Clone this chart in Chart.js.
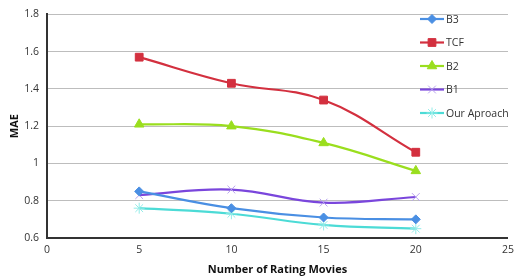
<!DOCTYPE html>
<html lang="en">
<head>
    <meta charset="UTF-8">
    <title>MAE vs Number of Rating Movies</title>
    <script src="https://cdn.jsdelivr.net/npm/chart.js"></script>
    <style>
        body {
            margin: 0;
            padding: 0;
            background: #fff;
        }

        #wrap {
            width: 520px;
            height: 280px;
        }
    </style>
</head>
<body>
    <div id="wrap"><canvas id="chart1"></canvas></div>

    <script>
        // Dados
        const ratingMovies = [5, 10, 15, 20];
        const b3 = [0.85, 0.76, 0.71, 0.70];
        const tcf = [1.57, 1.43, 1.34, 1.06];
        const b2 = [1.21, 1.20, 1.11, 0.96];
        const b1 = [0.83, 0.86, 0.79, 0.82];
        const ourAproach = [0.76, 0.73, 0.67, 0.65];
        const seriesNames = ["B3", "TCF", "B2", "B1", "Our Aproach"];

        const FONT = "'Open Sans', 'Liberation Sans', sans-serif";

        function pts(values) {
            return values.map((v, i) => ({ x: ratingMovies[i], y: v }));
        }

        function serie(label, values, color, pointColor, style, radius) {
            return {
                label: label,
                data: pts(values),
                borderColor: color,
                backgroundColor: pointColor,
                pointBorderColor: pointColor,
                pointBackgroundColor: pointColor,
                pointStyle: style,
                pointRadius: radius,
                pointBorderWidth: 1,
                borderWidth: 2.2,
                tension: 0.4,
                fill: false,
            };
        }

        // Legenda desenhada dentro da área do gráfico
        const insideLegend = {
            id: "insideLegend",
            afterDraw(chart) {
                const ctx = chart.ctx;
                const x0 = 420, y0 = 19, gap = 23.5;
                chart.data.datasets.forEach((ds, i) => {
                    const y = y0 + i * gap;
                    ctx.save();
                    ctx.strokeStyle = ds.borderColor;
                    ctx.lineWidth = 2.2;
                    ctx.beginPath();
                    ctx.moveTo(x0, y);
                    ctx.lineTo(x0 + 24, y);
                    ctx.stroke();
                    ctx.fillStyle = ds.pointBackgroundColor;
                    ctx.strokeStyle = ds.pointBorderColor;
                    ctx.lineWidth = 1;
                    Chart.helpers.drawPoint(ctx, {
                        pointStyle: ds.pointStyle,
                        radius: ds.pointRadius,
                        borderWidth: 1,
                    }, x0 + 12, y);
                    ctx.fillStyle = "#333";
                    ctx.font = "10.5px " + FONT;
                    ctx.textBaseline = "middle";
                    ctx.fillText(ds.label, x0 + 26, y + 1);
                    ctx.restore();
                });
            },
        };

        const ctx1 = document.getElementById("chart1").getContext("2d");
        new Chart(ctx1, {
            type: "line",
            data: {
                datasets: [
                    serie(seriesNames[0], b3, "#4a8fe3", "#4a8fe3", "rectRot", 4.5),
                    serie(seriesNames[1], tcf, "#d3303f", "#d3303f", "rect", 5.5),
                    serie(seriesNames[2], b2, "#9ade1e", "#9ade1e", "triangle", 5.5),
                    serie(seriesNames[3], b1, "#7a46dc", "#b8a2ee", "crossRot", 5.5),
                    serie(seriesNames[4], ourAproach, "#4cdbd6", "#92ece8", "star", 5.5),
                ],
            },
            options: {
                responsive: true,
                maintainAspectRatio: false,
                animation: false,
                layout: {
                    padding: { left: 0, top: 5, right: 8, bottom: 0 },
                },
                plugins: {
                    legend: { display: false },
                    tooltip: { enabled: false },
                },
                scales: {
                    x: {
                        type: "linear",
                        min: 0,
                        max: 25,
                        ticks: {
                            stepSize: 5,
                            color: "#333",
                            font: { family: FONT, size: 10.5 },
                            padding: 6,
                        },
                        grid: { display: false, drawTicks: false },
                        border: { color: "#333", width: 2 },
                        title: {
                            display: true,
                            text: "Number of Rating Movies",
                            color: "#111",
                            font: { family: FONT, size: 11, weight: "bold" },
                            padding: { top: 8 },
                        },
                        afterFit(scale) {
                            scale.height = 42;
                        },
                    },
                    y: {
                        min: 0.6,
                        max: 1.8,
                        ticks: {
                            stepSize: 0.2,
                            color: "#333",
                            font: { family: FONT, size: 10.5 },
                            padding: 8,
                            callback: (v) => String(+v.toFixed(1)),
                        },
                        grid: { color: "#bdbdbd", lineWidth: 1, drawTicks: false },
                        border: { color: "#333", width: 2 },
                        title: {
                            display: true,
                            text: "MAE",
                            color: "#111",
                            font: { family: FONT, size: 11, weight: "bold" },
                            padding: { top: 8, bottom: 4 },
                        },
                        afterFit(scale) {
                            scale.width = 47;
                        },
                    },
                },
            },
            plugins: [insideLegend],
        });
    </script>
</body>
</html>
